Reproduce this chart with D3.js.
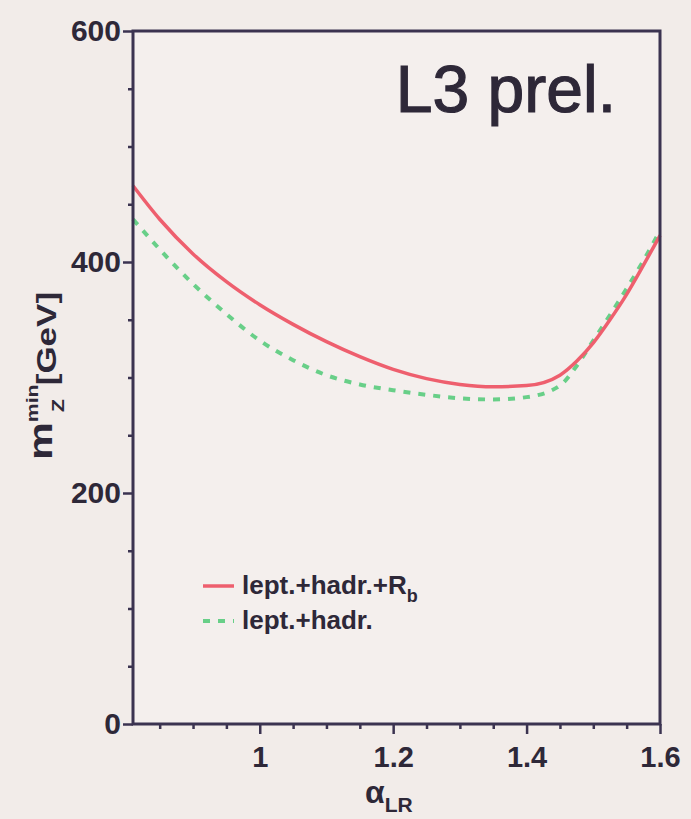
<!DOCTYPE html>
<html>
<head>
<meta charset="utf-8">
<script src="https://cdn.jsdelivr.net/npm/d3@7"></script>
<style>
  html, body { margin: 0; padding: 0; background: #f2ece9; }
  svg { display: block; }
</style>
</head>
<body>
<div id="chart"></div>
<script>
// alpha_LR sample points (shared by both curves)
const alphaLR = [0.81, 0.85, 0.9, 0.95, 1.0, 1.05, 1.1, 1.15, 1.2, 1.25, 1.3, 1.35, 1.4, 1.45, 1.475, 1.5, 1.525, 1.55, 1.575, 1.6];
// lept.+hadr.+Rb (solid red)
const mzRb = [466, 437, 407, 383, 363, 346, 331, 318, 307, 299, 294, 292, 293, 302, 314, 330, 350, 372, 397, 423];
// lept.+hadr. (dotted green)
const mzLH = [437, 411, 381, 355, 332, 315, 302, 294, 289, 285, 282, 281, 283, 293, 310, 332, 354, 377, 401, 427];

const xMajor = [1, 1.2, 1.4, 1.6];
const xMinor = [0.85, 0.9, 0.95, 1.05, 1.1, 1.15, 1.25, 1.3, 1.35, 1.45, 1.5, 1.55];
const yMajor = [0, 200, 400, 600];
const yMinor = [50, 100, 150, 250, 300, 350, 450, 500, 550];

const legendItems = [
  { label: 'lept.+hadr.+R', sub: 'b', color: '#ee5f6e', dash: null },
  { label: 'lept.+hadr.', sub: '', color: '#68cf88', dash: '7,8' }
];

(function() {
  const width = 691;
  const height = 819;
  const margin = { top: 31, right: 31, bottom: 95, left: 133 };
  const axisColor = '#3b3350';
  const font = '"Liberation Sans", Arial, Helvetica, sans-serif';

  const svg = d3.select('#chart')
    .append('svg')
    .attr('width', width)
    .attr('height', height);

  svg.append('rect')
    .attr('width', width)
    .attr('height', height)
    .attr('fill', '#f2ece9');

  const x = d3.scaleLinear().domain([0.81, 1.6]).range([margin.left, width - margin.right]);
  const y = d3.scaleLinear().domain([0, 600]).range([height - margin.bottom, margin.top]);

  // plot area
  svg.append('rect')
    .attr('x', x(0.81)).attr('y', y(600))
    .attr('width', x(1.6) - x(0.81)).attr('height', y(0) - y(600))
    .attr('fill', '#f4efed');

  // curves
  const line = d3.line()
    .x(d => x(d[0]))
    .y(d => y(d[1]))
    .curve(d3.curveMonotoneX);

  svg.append('path')
    .datum(alphaLR.map((a, i) => [a, mzLH[i]]))
    .attr('d', line)
    .attr('fill', 'none')
    .attr('stroke', legendItems[1].color)
    .attr('stroke-width', 4)
    .attr('stroke-dasharray', legendItems[1].dash);

  svg.append('path')
    .datum(alphaLR.map((a, i) => [a, mzRb[i]]))
    .attr('d', line)
    .attr('fill', 'none')
    .attr('stroke', legendItems[0].color)
    .attr('stroke-width', 3.5);

  // axes
  const styleAxis = g => {
    g.select('.domain').remove();
    g.selectAll('line').attr('stroke', axisColor).attr('stroke-width', 2.5);
    g.selectAll('text')
      .attr('fill', '#2e2838')
      .attr('font-family', font)
      .attr('font-weight', 'bold');
  };

  svg.append('g')
    .attr('transform', `translate(0,${y(0)})`)
    .call(d3.axisBottom(x).tickValues(xMinor).tickSize(5).tickFormat(''))
    .call(styleAxis);

  svg.append('g')
    .attr('transform', `translate(0,${y(0)})`)
    .call(d3.axisBottom(x).tickValues(xMajor).tickSize(10).tickPadding(12).tickFormat(d3.format('')))
    .call(styleAxis)
    .selectAll('text').attr('font-size', 29);

  svg.append('g')
    .attr('transform', `translate(${x(0.81)},0)`)
    .call(d3.axisLeft(y).tickValues(yMinor).tickSize(5).tickFormat(''))
    .call(styleAxis);

  svg.append('g')
    .attr('transform', `translate(${x(0.81)},0)`)
    .call(d3.axisLeft(y).tickValues(yMajor).tickSize(10).tickPadding(2))
    .call(styleAxis)
    .selectAll('text').attr('font-size', 30);

  // frame
  svg.append('rect')
    .attr('x', x(0.81)).attr('y', y(600))
    .attr('width', x(1.6) - x(0.81)).attr('height', y(0) - y(600))
    .attr('fill', 'none')
    .attr('stroke', axisColor)
    .attr('stroke-width', 3);

  // title
  svg.append('text')
    .attr('x', 616)
    .attr('y', 112)
    .attr('text-anchor', 'end')
    .attr('font-family', font)
    .attr('font-size', 66)
    .attr('fill', '#2e2838')
    .attr('stroke', '#2e2838')
    .attr('stroke-width', 1.2)
    .text('L3 prel.');

  // x label
  const xl = svg.append('text')
    .attr('x', 365)
    .attr('y', 803)
    .attr('font-family', font)
    .attr('font-weight', 'bold')
    .attr('fill', '#2e2838');
  xl.append('tspan').attr('font-size', 32).text('α');
  xl.append('tspan').attr('font-size', 21).attr('dy', 9).text('LR');

  // y label
  const yl = svg.append('text')
    .attr('transform', 'translate(52,376) rotate(-90) scale(1.25,1)')
    .attr('text-anchor', 'middle')
    .attr('font-family', font)
    .attr('font-weight', 'bold')
    .attr('fill', '#2e2838');
  yl.append('tspan').attr('font-size', 34).text('m');
  yl.append('tspan').attr('font-size', 17).attr('dy', -14).text('min');
  yl.append('tspan').attr('font-size', 17).attr('dx', -22).attr('dy', 26).text('Z');
  yl.append('tspan').attr('font-size', 28).attr('dx', 11).attr('dy', -8).text('[GeV]');

  // legend
  const leg = svg.append('g');
  legendItems.forEach((d, i) => {
    const ly = 586 + i * 35;
    leg.append('line')
      .attr('x1', 203).attr('x2', 234)
      .attr('y1', ly).attr('y2', ly)
      .attr('stroke', d.color)
      .attr('stroke-width', d.dash ? 4 : 3.5)
      .attr('stroke-dasharray', d.dash);
    const t = leg.append('text')
      .attr('x', 242)
      .attr('y', ly + 8)
      .attr('font-family', font)
      .attr('font-weight', 'bold')
      .attr('font-size', 26)
      .attr('fill', '#2e2838')
      .text(d.label);
    if (d.sub) {
      t.append('tspan').attr('font-size', 18).attr('dy', 8).text(d.sub);
    }
  });
})();
</script>
</body>
</html>
